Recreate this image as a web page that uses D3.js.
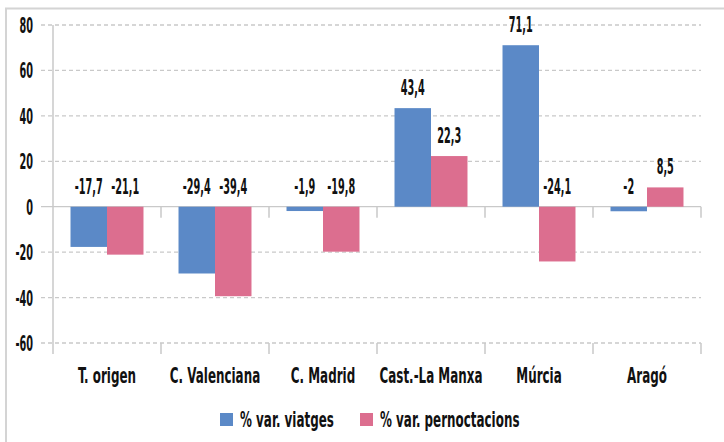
<!DOCTYPE html>
<html>
<head>
<meta charset="utf-8">
<script src="https://cdn.jsdelivr.net/npm/d3@7"></script>
<style>
  body { margin: 0; background: #fff; }
  text { font-family: "Liberation Sans Narrow", "DejaVu Sans Condensed", "Liberation Sans", sans-serif; font-weight: bold; font-size: 22px; fill: #111; }
</style>
</head>
<body>
<div id="chart"></div>
<script>
const categories = ["T. origen", "C. Valenciana", "C. Madrid", "Cast.-La Manxa", "Múrcia", "Aragó"];
const seriesNames = ["% var. viatges", "% var. pernoctacions"];
const viatges = [-17.7, -29.4, -1.9, 43.4, 71.1, -2];
const pernoctacions = [-21.1, -39.4, -19.8, 22.3, -24.1, 8.5];
const yTicks = [-60, -40, -20, 0, 20, 40, 60, 80];
const colors = ["#5b89c7", "#dc6e8f"];

const width = 724, height = 442;
const svg = d3.select("#chart").append("svg")
    .attr("width", width)
    .attr("height", height);

svg.append("rect").attr("width", width).attr("height", height).attr("fill", "#fff");

// outer frame
svg.append("rect")
    .attr("x", 6).attr("y", 8.5)
    .attr("width", 740).attr("height", 460)
    .attr("fill", "none")
    .attr("stroke", "#d4d4d4")
    .attr("stroke-width", 2);

// condensed look: squeeze text horizontally to match the reference widths
function squeeze(sample, target) {
    const probe = svg.append("text").text(sample);
    const w = probe.node().getComputedTextLength();
    probe.remove();
    return target / w;
}
const SX = squeeze("Cast.-La Manxa", 103);
const SXN = squeeze("-17,7", 28);

function label(sel, x, y, txt, anchor, sx = SX) {
    sel.append("g")
        .attr("transform", `translate(${x},${y}) scale(${sx},1)`)
        .append("text")
        .attr("text-anchor", anchor)
        .text(txt);
}

const x0 = d3.scaleBand().domain(categories).range([53, 701]);
const x1 = d3.scaleBand().domain(seriesNames).range([0, x0.bandwidth()]).paddingOuter(0.48);
const y = d3.scaleLinear().domain([-60, 80]).range([343, 25]);

const gridColor = "#c9c9c9";

// gridlines (dashed), zero line solid
svg.append("g").selectAll("line")
    .data(yTicks)
    .join("line")
    .attr("x1", 41).attr("x2", 701)
    .attr("y1", d => y(d)).attr("y2", d => y(d))
    .attr("stroke", gridColor)
    .attr("stroke-width", 1.3)
    .attr("stroke-dasharray", d => d === 0 ? null : "4,3");

// y-axis line
svg.append("line")
    .attr("x1", 53).attr("x2", 53)
    .attr("y1", y(80)).attr("y2", 354)
    .attr("stroke", gridColor).attr("stroke-width", 1.5);

// category tick marks at zero line and bottom
const bounds = categories.map(c => x0(c) + x0.bandwidth());
[0, -60].forEach(v => {
    svg.append("g").selectAll("line")
        .data(bounds)
        .join("line")
        .attr("x1", d => d).attr("x2", d => d)
        .attr("y1", y(v)).attr("y2", y(v) + 11)
        .attr("stroke", gridColor).attr("stroke-width", 1.5);
});

// y tick labels
const yLab = svg.append("g");
yTicks.forEach(t => label(yLab, 33, y(t) + 8, String(t), "end", SXN));

// bars
const rows = categories.map((c, i) => ({ cat: c, vals: [viatges[i], pernoctacions[i]] }));
const groups = svg.append("g").selectAll("g")
    .data(rows)
    .join("g")
    .attr("transform", d => `translate(${x0(d.cat)},0)`);

groups.selectAll("rect")
    .data(d => d.vals.map((v, j) => ({ key: seriesNames[j], v, j })))
    .join("rect")
    .attr("x", d => x1(d.key))
    .attr("width", x1.bandwidth())
    .attr("y", d => y(Math.max(0, d.v)))
    .attr("height", d => Math.abs(y(d.v) - y(0)))
    .attr("fill", d => colors[d.j]);

// value labels
const fmt = v => String(v).replace(".", ",");
rows.forEach(r => {
    r.vals.forEach((v, j) => {
        const cx = x0(r.cat) + x1(seriesNames[j]) + x1.bandwidth() / 2;
        label(svg, cx, Math.min(y(v), y(0)) - 13, fmt(v), "middle", SXN);
    });
});

// category labels
categories.forEach(c => label(svg, x0(c) + x0.bandwidth() / 2, 383, c, "middle"));

// legend
const legendX = [220, 360];
seriesNames.forEach((s, j) => {
    svg.append("rect")
        .attr("x", legendX[j]).attr("y", 413)
        .attr("width", 13).attr("height", 13)
        .attr("fill", colors[j]);
    label(svg, legendX[j] + 20, 427, s, "start");
});
</script>
</body>
</html>
